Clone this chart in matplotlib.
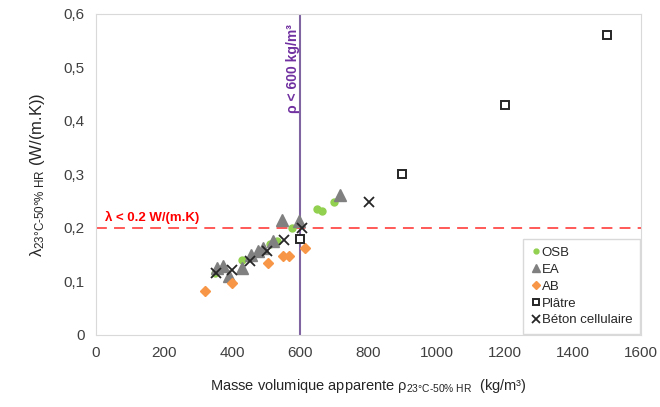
import matplotlib
matplotlib.use("Agg")
import matplotlib.pyplot as plt

plt.rcParams['font.family'] = ['Liberation Sans', 'DejaVu Sans']
plt.rcParams['mathtext.fontset'] = 'custom'
plt.rcParams['mathtext.rm'] = 'Liberation Sans'
plt.rcParams['mathtext.it'] = 'Liberation Sans'
plt.rcParams['mathtext.bf'] = 'Liberation Sans:bold'

# OSB
osb_x = [350, 430, 510, 530, 575, 650, 665, 700]
osb_y = [0.115, 0.140, 0.170, 0.175, 0.200, 0.236, 0.231, 0.248]
# EA
ea_x = [355, 372, 390, 430, 455, 475, 490, 520, 545, 597, 715]
ea_y = [0.125, 0.128, 0.110, 0.125, 0.150, 0.156, 0.162, 0.175, 0.215, 0.212, 0.262]
# AB
ab_x = [320, 400, 505, 548, 567, 615]
ab_y = [0.083, 0.098, 0.135, 0.147, 0.147, 0.162]
# Platre
pl_x = [600, 900, 1200, 1500]
pl_y = [0.180, 0.300, 0.430, 0.560]
# Beton cellulaire
bc_x = [352, 400, 452, 503, 553, 604, 802]
bc_y = [0.115, 0.122, 0.139, 0.157, 0.177, 0.199, 0.249]

x_ticks = [0, 200, 400, 600, 800, 1000, 1200, 1400, 1600]
y_ticks = [0, 0.1, 0.2, 0.3, 0.4, 0.5, 0.6]
y_ticklabels = ['0', '0,1', '0,2', '0,3', '0,4', '0,5', '0,6']

fig = plt.figure(figsize=(6.6, 4.07), dpi=100)
ax = fig.add_axes([0.1455, 0.177, 0.8255, 0.789])

ax.axvline(600, color='#8064A2', lw=1.5, zorder=1)
ax.axhline(0.2, color='#FF4B4B', lw=1.3, ls=(0, (6, 4)), zorder=1)

ax.plot(osb_x, osb_y, 'o', ms=5, color='#92D050', mec='#92D050', label='OSB', zorder=3)
ax.plot(ea_x, ea_y, '^', ms=8, color='#808080', mec='#808080', label='EA', zorder=3)
ax.plot(ab_x, ab_y, 'D', ms=5.5, color='#F79646', mec='#F79646', label='AB', zorder=3)
ax.plot(pl_x, pl_y, 's', ms=6, mfc='white', mec='#262626', mew=1.4, label='Plâtre', zorder=3)
ax.plot(bc_x, bc_y, 'x', ms=7.5, color='#262626', mew=1.3, label='Béton cellulaire', zorder=4)

ax.text(25, 0.207, 'λ < 0.2 W/(m.K)', color='#FF0000', fontsize=9.5,
        fontweight='bold', va='bottom', ha='left')
ax.text(578, 0.58, 'ρ < 600 kg/m³', color='#7030A0', fontsize=10,
        fontweight='bold', rotation=90, va='top', ha='center')

ax.set_xlim(0, 1600)
ax.set_ylim(0, 0.6)
ax.set_xticks(x_ticks)
ax.set_yticks(y_ticks)
ax.set_yticklabels(y_ticklabels)
ax.tick_params(length=0, labelsize=11, labelcolor='#404040', pad=8)
for s in ax.spines.values():
    s.set_color('#D9D9D9')

ax.set_xlabel('Masse volumique apparente ρ$_{\\mathrm{23°C\\text{-}50\\%\\ HR}}$  (kg/m³)',
              fontsize=10.5, color='#262626', labelpad=12)
ax.set_ylabel('λ$_{\\mathrm{23°C\\text{-}50°\\%\\ HR}}$ (W/(m.K))', fontsize=12,
              color='#262626', labelpad=12)

leg = ax.legend(loc='lower right', fontsize=9.5, handletextpad=0.0, handlelength=0.9,
                borderaxespad=0.1, fancybox=False, framealpha=1,
                edgecolor='#D9D9D9', labelspacing=0.35, borderpad=0.55,
                markerscale=0.7)
for t in leg.get_texts():
    t.set_color('#262626')

fig.savefig('out.png', dpi=100)
